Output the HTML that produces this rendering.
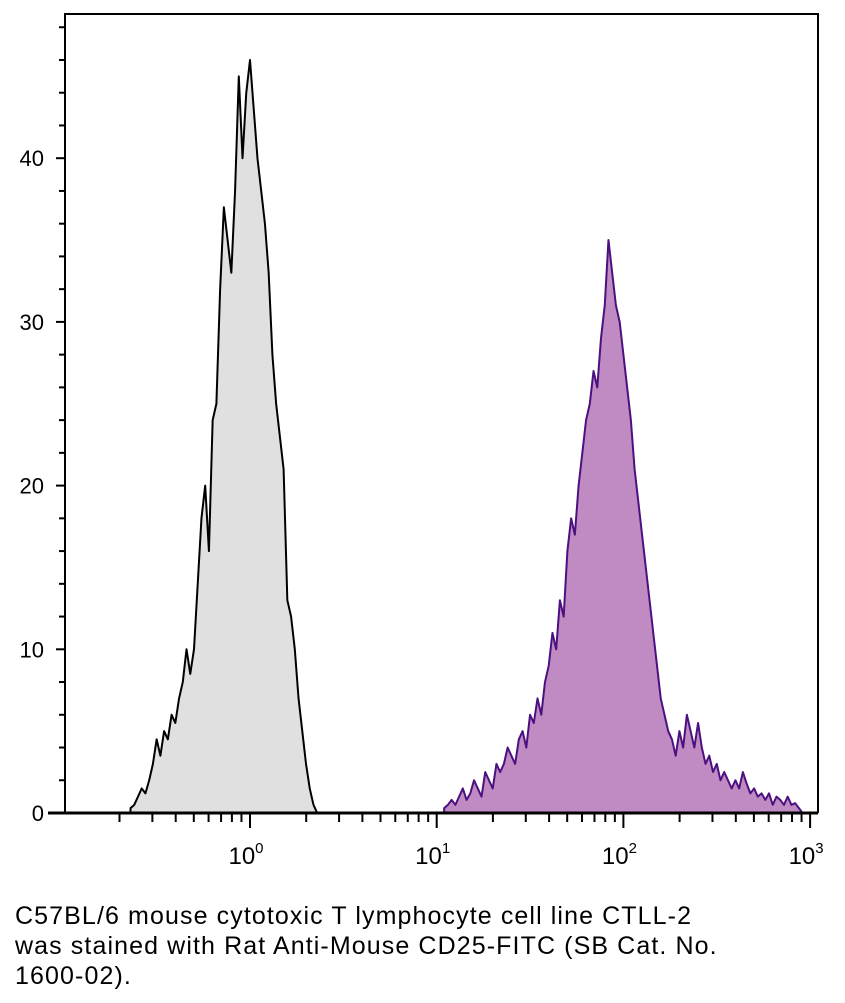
<!DOCTYPE html>
<html><head><meta charset="utf-8"><style>
body{margin:0;background:#fff;width:845px;height:1003px;overflow:hidden;font-family:"Liberation Sans",sans-serif}
#cap{position:absolute;left:15px;top:901px;font-size:25px;letter-spacing:1.1px;line-height:30px;color:#000;width:830px;white-space:nowrap}
</style></head><body>
<svg id="chart" width="845" height="890" style="position:absolute;left:0;top:0"></svg>
<div id="cap">C57BL/6 mouse cytotoxic T lymphocyte cell line CTLL-2<br>was stained with Rat Anti-Mouse CD25-FITC (SB Cat. No.<br>1600-02).</div>
<script>
const grayStart=-0.64, step=0.02;
const grayCounts=[0.3,0.5,1,1.5,1.2,2,3,4.5,3.5,5,4.5,6,5.5,7,8,10,8.5,10,14,18,20,16,24,25,32,37,35,33,38,45,40,44,46,43,40,38,36,33,28,25,23,21,13,12,10,7,5,3,1.5,0.5,0];
const purpleStart=1.04;
const purpleCounts=[0.3,0.5,0.8,0.5,1,1.5,0.8,1.2,2,1.5,1,2.5,2,1.5,3,2.5,3,4,3.5,3,4.5,5,4,6,5.5,7,6,8,9,11,10,13,12,16,18,17,20,22,24,25,27,26,29,31,35,33,31,30,28,26,24,21,19,17,15,13,11,9,7,6,5,4.5,3.5,5,4,6,5,4,5.5,4,3,3.5,2.5,3,2,2.5,2,1.5,2,1.5,2.5,1.8,1.2,1.5,1,1.2,0.8,1.2,0.5,1,0.8,0.5,1,0.5,0.6,0.3,0];
const yTicks=[0,10,20,30,40];
const xDecades=[0,1,2,3];
const NS="http://www.w3.org/2000/svg";
const svg=document.getElementById('chart');
const X=l=>250+186.7*l, Y=v=>813-16.37*v;
function mk(t,a,p){const e=document.createElementNS(NS,t);for(const k in a)e.setAttribute(k,a[k]);(p||svg).appendChild(e);return e;}
function hist(start,counts,fill,stroke,name){
  let d=`M${X(start)},${Y(0)}`;
  counts.forEach((c,i)=>{d+=` L${X(start+i*step)},${Y(c)}`;});
  d+=` L${X(start+(counts.length-1)*step)},${Y(0)} Z`;
  const p=mk('path',{d:d,fill:fill,stroke:stroke,'stroke-width':2,'stroke-linejoin':'round'});
  
  
}
hist(grayStart,grayCounts,'#e0e0e0','#000','histogram-control');
hist(purpleStart,purpleCounts,'#c08ac2','#4b1180','histogram-cd25');
const fr=mk('path',{d:'M65,813 L65,14 L818,14 L818,813',fill:'none',stroke:'#000','stroke-width':2});


const xa=mk('line',{x1:48,y1:813,x2:818,y2:813,stroke:'#000','stroke-width':3});


for(let v=0;v<=48;v+=2){
  const major=v%10===0;
  mk('line',{x1:major?56:59,x2:65,y1:Y(v),y2:Y(v),stroke:'#000','stroke-width':2});
}
yTicks.forEach(v=>{
  const t=mk('text',{x:44,y:Y(v)+8,'text-anchor':'end','font-size':22,'font-family':'Liberation Sans, sans-serif'});
  t.textContent=v;
  
  
});
for(let d=-1;d<3;d++){for(let m=2;m<=9;m++){const x=X(d+Math.log10(m));if(x>66&&x<818)mk('line',{x1:x,x2:x,y1:813,y2:822,stroke:'#000','stroke-width':2});}}
xDecades.forEach(d=>{
  mk('line',{x1:X(d),x2:X(d),y1:813,y2:828,stroke:'#000','stroke-width':2});
  const t=mk('text',{x:X(d)-4,y:864,'text-anchor':'middle','font-size':24,'font-family':'Liberation Sans, sans-serif'});
  t.textContent='10';
  
  
  const s=mk('tspan',{dy:-11,'font-size':15},t);s.textContent=d;
});
</script>
</body></html>
